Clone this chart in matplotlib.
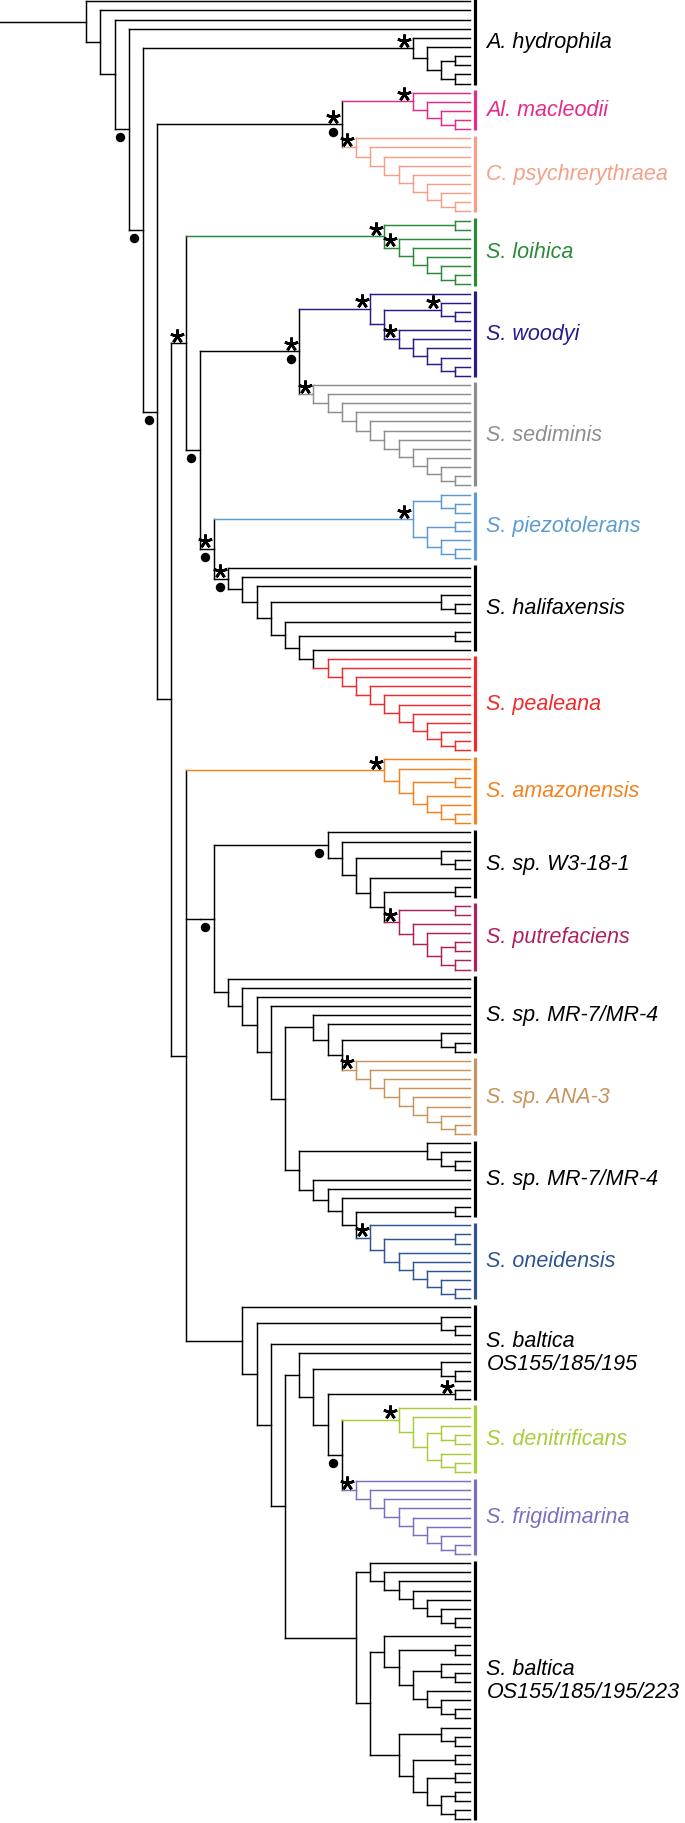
import matplotlib.pyplot as plt

# tree topology as newick; "x" = leaf, internal labels: s = asterisk, d = dot
HYDRO = "(x,(x,((x,x),(x,x))))s"
MACLEODII = "(x,(x,(x,(x,x))))s"
PSYCHRO = "(x,(x,(x,(x,(x,(x,(x,(x,x))))))))s"
LOIHICA = "((x,x),(x,(x,(x,(x,(x,x)))))s)s"
WOODYI = "(x,((x,(x,x))s,(x,(x,(x,(x,(x,x)))))s))s"
SEDIMINIS = "(x,(x,(x,(x,(x,(x,(x,(x,(x,(x,(x,x)))))))))))s"
PIEZO = "((x,(x,x)),((x,x),(x,(x,x))))s"
PEALEANA = "(x,(x,(x,(x,(x,(x,(x,(x,(x,(x,x))))))))))"
HALIFAX = "(x,(x,(x,((x,(x,x)),(x,((x,x),(x,{red})))))))sd"
AMAZON = "(x,(x,((x,x),(x,(x,(x,x))))))s"
PUTREF = "((x,x),(x,(x,((x,x),(x,x)))))s"
W3 = "(x,(x,((x,(x,x)),(x,((x,x),{put})))))d"
ANA3 = "(x,(x,(x,(x,(x,(x,(x,(x,x))))))))s"
ONEID = "(x,((x,x),(x,(x,(x,(x,(x,x)))))))s"
MR7A = "(x,(x,((x,(x,x)),{ana})))"
MR7B = "((x,(x,(x,x))),(x,(x,(x,((x,x),{one})))))"
DENIT = "(x,(x,((x,(x,x)),(x,(x,x)))))s"
FRIG = "(x,(x,(x,(x,(x,(x,(x,(x,x))))))))s"
BALT1 = "(x,((x,(x,x)),((x,x)s,({den},{frig})d)))"
BALT2 = ("((x,(x,(x,(x,(x,(x,(x,x))))))),"
         "((x,((x,x),((x,(x,x)),(x,(x,(x,x)))))),"
         "((x,(x,x)),((x,x),((x,x),((x,x),(x,x)))))))")

upper = "({lo},(({wo},{se})sd,({pi},{ha})sd)d)s".format(
    lo=LOIHICA, wo=WOODYI, se=SEDIMINIS, pi=PIEZO,
    ha=HALIFAX.format(red=PEALEANA))
lower = "({am},(({w3},(x,(x,(x,(x,({a},{b}))))))d),(x,((x,(x,x)),(x,({c},{d}))))))".format(
    am=AMAZON, w3=W3.format(put=PUTREF), a=MR7A.format(ana=ANA3),
    b=MR7B.format(one=ONEID), c=BALT1.format(den=DENIT, frig=FRIG), d=BALT2)
TREE = "(x,(x,(x,(x,({hy},(({ma},{ps})sd,({up},{lw})d)d)d))))".format(
    hy=HYDRO, ma=MACLEODII, ps=PSYCHRO, up=upper, lw=lower)

clade_names = ["A. hydrophila", "Al. macleodii", "C. psychrerythraea", "S. loihica",
               "S. woodyi", "S. sediminis", "S. piezotolerans", "S. halifaxensis",
               "S. pealeana", "S. amazonensis", "S. sp. W3-18-1", "S. putrefaciens",
               "S. sp. MR-7/MR-4", "S. sp. ANA-3", "S. sp. MR-7/MR-4", "S. oneidensis",
               "S. baltica\nOS155/185/195", "S. denitrificans", "S. frigidimarina",
               "S. baltica\nOS155/185/195/223"]
clade_first = [0, 10, 15, 24, 32, 42, 54, 62, 72, 83, 91, 99, 107, 116, 125, 134, 143, 154, 162, 171]
clade_last = [9, 14, 23, 31, 41, 53, 61, 71, 82, 90, 98, 106, 115, 124, 133, 142, 153, 161, 170, 199]
clade_colors = ["#000000", "#e52a8a", "#f4a088", "#2a8a3a", "#261d86", "#8e8e8e", "#5b9bd5",
                "#000000", "#ee2b2b", "#f5821f", "#000000", "#ae1f5e", "#000000", "#c8935c",
                "#000000", "#2e5590", "#000000", "#a6ce39", "#7b70c0", "#000000"]


def parse(s):
    pos = 0

    def node():
        nonlocal pos
        if s[pos] == '(':
            pos += 1
            kids = [node()]
            while s[pos] == ',':
                pos += 1
                kids.append(node())
            pos += 1
            lab = ''
            while pos < len(s) and s[pos] in 'sd':
                lab += s[pos]
                pos += 1
            return {'kids': kids, 'lab': lab}
        pos += 1
        return {'kids': [], 'lab': ''}
    return node()


root = parse(TREE)
leaves = []
nodes = []


def layout(n):
    nodes.append(n)
    if not n['kids']:
        n['y'] = len(leaves)
        n['h'] = 0
        leaves.append(n)
        return
    for k in n['kids']:
        layout(k)
    n['h'] = max(k['h'] for k in n['kids']) + 1
    n['y'] = (n['kids'][0]['y'] + n['kids'][-1]['y']) / 2


layout(root)
H = root['h']
for n in nodes:
    n['x'] = H - n['h']

leaf_col = ['#000000'] * len(leaves)
for f, l, c in zip(clade_first, clade_last, clade_colors):
    for i in range(f, l + 1):
        leaf_col[i] = c


def colour(n):
    if not n['kids']:
        n['col'] = leaf_col[int(n['y'])]
        return n['col']
    cs = {colour(k) for k in n['kids']}
    n['col'] = cs.pop() if len(cs) == 1 else '#000000'
    return n['col']


colour(root)

# pixel geometry of the reference
W, Hpx = 685, 1823
X0, DX = 86.1, 14.2          # root x and level step (px)
Y0, DY = 1.3, 9.134          # first leaf y and leaf step (px)
LW = 1.05

fig = plt.figure(figsize=(W / 100, Hpx / 100), dpi=100)
ax = fig.add_axes([0, 0, 1, 1])
ax.set_xlim(-X0 / DX, (W - X0) / DX)
ax.set_ylim((Hpx - Y0) / DY, -Y0 / DY)
ax.axis('off')


def draw(n, px):
    ax.plot([px, n['x']], [n['y'], n['y']], color=n['col'], lw=LW,
            solid_capstyle='projecting')
    if n['kids']:
        ax.plot([n['x'], n['x']], [n['kids'][0]['y'], n['kids'][-1]['y']],
                color=n['col'], lw=LW, solid_capstyle='projecting')
        for k in n['kids']:
            draw(k, n['x'])


draw(root, -X0 / DX - 1)

# support markers
mx = 8.5 / DX
for n in nodes:
    if 's' in n['lab']:
        ax.plot(n['x'] - mx, n['y'] - 7.5 / DY, marker=(5, 2, 0), ms=10,
                mew=1.9, color='black')
    if 'd' in n['lab']:
        ax.plot(n['x'] - mx, n['y'] + 8.0 / DY, marker='o', ms=6.8,
                color='black', mec='none')

# clade bars and labels
bar_x = (474.5 - X0) / DX
lab_x = (486.5 - X0) / DX
for i, (name, f, l, c) in enumerate(zip(clade_names, clade_first, clade_last, clade_colors)):
    ax.plot([bar_x, bar_x], [f - 0.27, l + 0.12], color=c, lw=2.3,
            solid_capstyle='butt')
    ly = (f + l) / 2 - (1.1 if i == len(clade_names) - 1 else 0)
    ax.text(lab_x, ly, name, color=c, fontsize=15.5,
            fontstyle='italic', family='Liberation Sans',
            va='center', ha='left', linespacing=1.15)

fig.savefig('out.png', dpi=100)
